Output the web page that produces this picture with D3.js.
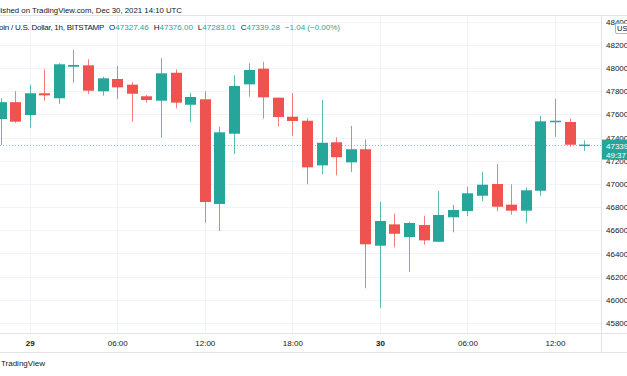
<!DOCTYPE html>
<html>
<head>
<meta charset="utf-8">
<script src="https://cdn.jsdelivr.net/npm/d3@7"></script>
<style>
  html, body { margin: 0; padding: 0; background: #fff; }
  svg { display: block; font-family: "Liberation Sans", "DejaVu Sans", sans-serif; }
</style>
</head>
<body>
<script>
// BTC/USD 1h candles, Dec 28 22:00 UTC -> Dec 30 14:00 UTC
let firstHour = Date.UTC(2021, 11, 28, 22);
let opens  = [47560, 47705, 47594, 47782, 47739, 48011, 48023, 47799, 47905, 47856, 47756, 47718, 47959, 47683,
              47730, 46827, 47433, 47859, 47994, 47744, 47580, 47545, 47160, 47359, 47186, 47299,
              46467, 46651, 46542, 46645, 46501, 46712, 46766, 46898, 46999, 46821, 46769, 46941, 47534, 47534, 47327.46];
let highs  = [47740, 47800, 47856, 47989, 48041, 48155, 48075, 47925, 48017, 47877, 47767, 48084, 47989, 47787,
              47799, 47494, 47937, 48041, 48054, 47744, 47784, 47566, 47724, 47402, 47500, 47385,
              46846, 46743, 46674, 46726, 46939, 46818, 46976, 47105, 47172, 46997, 46971, 47588, 47733, 47563, 47376.00];
let lows   = [47335, 47528, 47485, 47718, 47689, 47873, 47776, 47761, 47733, 47537, 47701, 47399, 47652, 47532,
              46665, 46594, 47258, 47752, 47563, 47494, 47416, 46997, 47085, 47074, 47103, 46099,
              45932, 46453, 46240, 46475, 46501, 46582, 46723, 46852, 46764, 46734, 46660, 46898, 47407, 47321, 47283.01];
let closes = [47705, 47537, 47782, 47764, 48032, 48026, 47804, 47911, 47833, 47778, 47724, 47954, 47701, 47750,
              46844, 47445, 47845, 47983, 47747, 47577, 47543, 47143, 47355, 47230, 47299, 46479,
              46680, 46570, 46663, 46513, 46732, 46775, 46919, 46993, 46803, 46769, 46945, 47540, 47545, 47338, 47339.28];

let priceTicks = d3.range(45800, 48401, 200);
let lastPrice = 47339.28;

let width = 627;
let height = 376;
let axisX = 601;
let topLine = 15;
let bottomLine = 333;
let footLine = 352;

let green = "#26a69a";
let red = "#ef5350";
let textColor = "#131722";
let gridColor = "#f0f3fa";
let borderColor = "#e0e3eb";

let candles = opens.map((o, i) => ({
    t: new Date(firstHour + i * 3600000),
    o: o, h: highs[i], l: lows[i], c: closes[i]
}));

let x = d3.scaleUtc()
    .domain([new Date(Date.UTC(2021, 11, 29, 0)), new Date(Date.UTC(2021, 11, 30, 12))])
    .range([29.7, 555]);

let y = d3.scaleLinear()
    .domain([48000, 45800])
    .range([68, 323]);

let svg = d3.select("body").append("svg")
    .attr("width", width)
    .attr("height", height)
    .attr("viewBox", [0, 0, width, height]);

let plot = svg.append("g");
svg.append("clipPath").attr("id", "plotclip")
    .append("rect").attr("x", 0).attr("y", topLine).attr("width", axisX).attr("height", bottomLine - topLine);
plot.attr("clip-path", "url(#plotclip)");

// horizontal grid
plot.selectAll(".hgrid")
    .data(priceTicks)
    .join("line")
    .attr("x1", 0).attr("x2", axisX)
    .attr("y1", d => Math.round(y(d)) + 0.5)
    .attr("y2", d => Math.round(y(d)) + 0.5)
    .attr("stroke", gridColor);

// vertical grid + time axis
let timeTicks = d3.utcHour.every(6).range(new Date(Date.UTC(2021, 11, 29, 0)), new Date(Date.UTC(2021, 11, 30, 13)));
plot.selectAll(".vgrid")
    .data(timeTicks)
    .join("line")
    .attr("x1", d => Math.round(x(d)) + 0.5)
    .attr("x2", d => Math.round(x(d)) + 0.5)
    .attr("y1", topLine).attr("y2", bottomLine)
    .attr("stroke", gridColor);

let xAxis = d3.axisBottom(x)
    .tickValues(timeTicks)
    .tickSize(0)
    .tickFormat(d => d.getUTCHours() === 0 ? d3.utcFormat("%-d")(d) : d3.utcFormat("%H:%M")(d));

svg.append("g")
    .attr("transform", `translate(0,${bottomLine + 4})`)
    .call(xAxis)
    .call(g => g.select(".domain").remove())
    .call(g => g.selectAll("text")
        .attr("fill", textColor)
        .attr("font-size", 8)
        .attr("font-family", "Liberation Sans, sans-serif")
        .attr("font-weight", d => d.getUTCHours() === 0 ? "bold" : "normal"));

// last price dotted line
plot.append("line")
    .attr("x1", 0).attr("x2", axisX)
    .attr("y1", Math.round(y(lastPrice)) + 0.5)
    .attr("y2", Math.round(y(lastPrice)) + 0.5)
    .attr("stroke", green)
    .attr("stroke-opacity", 0.6)
    .attr("stroke-dasharray", "1,2");

// candles
let bodyW = 11;
let cg = plot.selectAll(".candle")
    .data(candles)
    .join("g");

cg.append("line")
    .attr("x1", d => Math.round(x(d.t)) + 0.5)
    .attr("x2", d => Math.round(x(d.t)) + 0.5)
    .attr("y1", d => y(d.h))
    .attr("y2", d => y(d.l))
    .attr("stroke", d => d.c >= d.o ? green : red)
    .attr("stroke-opacity", 0.75);

cg.append("rect")
    .attr("x", d => Math.round(x(d.t)) + 0.5 - bodyW / 2)
    .attr("width", bodyW)
    .attr("y", d => y(Math.max(d.o, d.c)))
    .attr("height", d => Math.max(1.5, Math.abs(y(d.o) - y(d.c))))
    .attr("fill", d => d.c >= d.o ? green : red);

// frame lines
svg.append("line").attr("x1", 0).attr("x2", width).attr("y1", topLine + 0.5).attr("y2", topLine + 0.5).attr("stroke", borderColor);
svg.append("line").attr("x1", 0).attr("x2", width).attr("y1", bottomLine + 0.5).attr("y2", bottomLine + 0.5).attr("stroke", borderColor);
svg.append("line").attr("x1", 0).attr("x2", width).attr("y1", footLine + 0.5).attr("y2", footLine + 0.5).attr("stroke", borderColor);
svg.append("line").attr("x1", axisX + 0.5).attr("x2", axisX + 0.5).attr("y1", topLine).attr("y2", footLine).attr("stroke", borderColor);

// price axis
let yAxis = d3.axisRight(y)
    .tickValues(priceTicks)
    .tickSize(0)
    .tickPadding(5)
    .tickFormat(d3.format("d"));

svg.append("g")
    .attr("transform", `translate(${axisX},0)`)
    .call(yAxis)
    .call(g => g.select(".domain").remove())
    .call(g => g.selectAll("text")
        .attr("fill", textColor)
        .attr("font-size", 8)
        .attr("font-family", "Liberation Sans, sans-serif"));

// USD badge
svg.append("rect")
    .attr("x", 615.5).attr("y", 23.5).attr("width", 16).attr("height", 10)
    .attr("rx", 1.5)
    .attr("fill", "#fff").attr("stroke", "#b2b5be");
svg.append("text")
    .attr("x", 617).attr("y", 31)
    .attr("font-size", 7.5).attr("fill", textColor)
    .text("USD");

// last price tag
let tagY = y(lastPrice);
svg.append("rect")
    .attr("x", axisX + 1).attr("y", tagY - 5).attr("width", width - axisX).attr("height", 20)
    .attr("fill", green);
svg.append("text")
    .attr("x", axisX + 5).attr("y", tagY + 4)
    .attr("font-size", 8).attr("fill", "#fff")
    .text(d3.format(".2f")(lastPrice));
svg.append("text")
    .attr("x", axisX + 5).attr("y", tagY + 13)
    .attr("font-size", 8).attr("fill", "#fff")
    .text("49:37");

// header
svg.append("text")
    .attr("x", 182).attr("y", 12.5)
    .attr("text-anchor", "end")
    .attr("font-size", 7.8).attr("fill", textColor)
    .text("Published on TradingView.com, Dec 30, 2021 14:10 UTC");

let legendParts = [
    ["Bitcoin / U.S. Dollar, 1h, BITSTAMP", textColor, 0, -0.25],
    ["O", textColor, 5, 0], [d3.format(".2f")(opens[opens.length - 1]), green, 0, 0],
    ["H", textColor, 5, 0], [d3.format(".2f")(highs[highs.length - 1]), green, 0, 0],
    ["L", textColor, 5, 0], [d3.format(".2f")(lows[lows.length - 1]), green, 0, 0],
    ["C", textColor, 5, 0], [d3.format(".2f")(closes[closes.length - 1]), green, 0, 0],
    ["\u22121.04 (\u22120.00%)", green, 5, 0]
];
svg.append("text")
    .attr("x", 340).attr("y", 30)
    .attr("text-anchor", "end")
    .attr("font-size", 8)
    .selectAll("tspan")
    .data(legendParts)
    .join("tspan")
    .attr("dx", d => d[2])
    .attr("letter-spacing", d => d[3])
    .attr("fill", d => d[1])
    .text(d => d[0]);

// footer
svg.append("text")
    .attr("x", 45).attr("y", 366)
    .attr("text-anchor", "end")
    .attr("font-size", 8).attr("fill", textColor)
    .text("TradingView");
</script>
</body>
</html>
